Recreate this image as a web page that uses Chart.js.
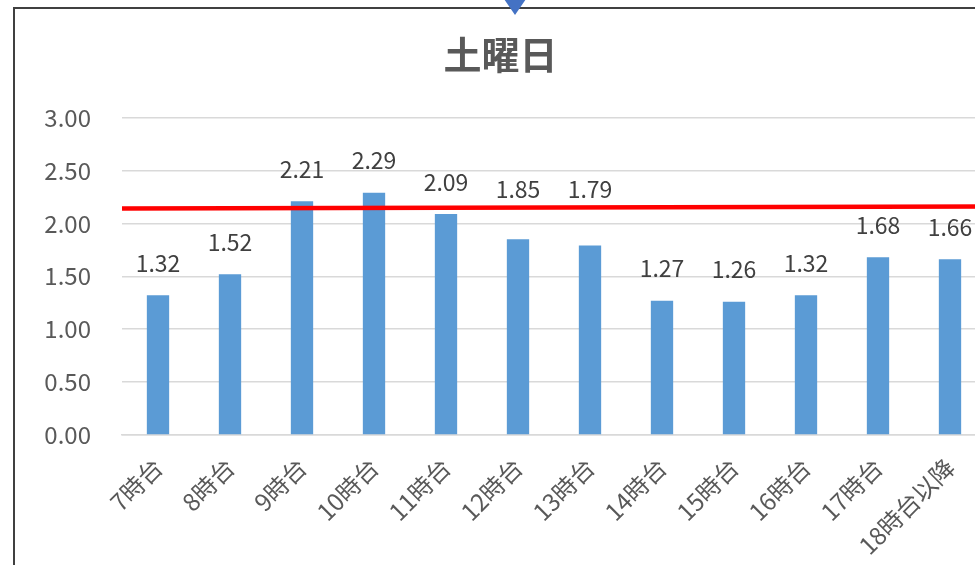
<!DOCTYPE html>
<html>
<head>
<meta charset="utf-8">
<script src="https://cdn.jsdelivr.net/npm/chart.js@4.4.1/dist/chart.umd.min.js"></script>
<style>
  html, body { margin: 0; padding: 0; background: #fff; overflow: hidden; }
  #box { position: absolute; left: 13px; top: 7px; width: 990px; height: 560px;
    border-left: 2px solid #404040; border-top: 2px solid #404040; }
  #wrap { position: absolute; left: 0; top: 0; width: 990px; height: 556px; }
  #marker { position: absolute; left: 504px; top: -1px; width: 0; height: 0;
    border-left: 11px solid transparent; border-right: 11px solid transparent;
    border-top: 16px solid #4472C4; }
</style>
</head>
<body>
<div id="box"><div id="wrap"><canvas id="grafico"></canvas></div></div>
<div id="marker"></div>
<script>
// datos
const horas = ['7時台', '8時台', '9時台', '10時台', '11時台', '12時台', '13時台', '14時台', '15時台', '16時台', '17時台', '18時台以降']
const valores = [1.32, 1.52, 2.21, 2.29, 2.09, 1.85, 1.79, 1.27, 1.26, 1.32, 1.68, 1.66]
const lineaRoja = [2.14, 2.16] // valor en el borde izquierdo y derecho del area
const fuente = "'Noto Sans CJK JP', 'Noto Sans', sans-serif"

// linea roja + etiquetas de valor sobre las barras
const extras = {
  id: 'extras',
  afterDatasetsDraw (chart) {
    const ctx = chart.ctx
    const area = chart.chartArea
    const y = chart.scales.y
    const y0 = y.getPixelForValue(lineaRoja[0])
    const y1 = y.getPixelForValue(lineaRoja[1])
    ctx.save()
    ctx.strokeStyle = '#FF0000'
    ctx.lineWidth = 4.5
    ctx.beginPath()
    ctx.moveTo(area.left, y0)
    ctx.lineTo(area.right, y1)
    ctx.stroke()
    const meta = chart.getDatasetMeta(0)
    ctx.font = '23px ' + fuente
    ctx.fillStyle = '#404040'
    ctx.textAlign = 'center'
    ctx.textBaseline = 'middle'
    meta.data.forEach((bar, i) => {
      let ty = bar.y - 32
      // si la etiqueta choca con la linea roja se sube por encima
      const yl = y0 + (y1 - y0) * (bar.x - area.left) / (area.right - area.left)
      if (Math.abs(ty - yl) < 16) ty = yl - 18
      ctx.fillText(valores[i].toFixed(2), bar.x, ty)
    })
    ctx.restore()
  }
}

const ctx = document.getElementById('grafico').getContext('2d')
const grafico = new Chart(ctx, {
  type: 'bar',
  data: {
    labels: horas,
    datasets: [{
      data: valores,
      backgroundColor: '#5B9BD5',
      barPercentage: 0.31,
      categoryPercentage: 1
    }]
  },
  options: {
    responsive: true,
    maintainAspectRatio: false,
    animation: false,
    layout: { padding: { left: 0, right: 19, top: 0, bottom: 0 } },
    plugins: {
      legend: { display: false },
      tooltip: { enabled: false },
      title: {
        display: true,
        text: '土曜日',
        color: '#595959',
        font: { family: fuente, size: 38, weight: 'bold', lineHeight: 1.2 },
        padding: { top: 23, bottom: 40 }
      }
    },
    scales: {
      x: {
        grid: { display: false },
        border: { color: '#D9D9D9', width: 1.5 },
        ticks: {
          color: '#595959',
          font: { family: fuente, size: 24 },
          minRotation: 45,
          maxRotation: 45,
          autoSkip: false,
          padding: 10
        },
        afterFit (scale) { scale.height = 130 }
      },
      y: {
        min: 0,
        max: 3,
        ticks: {
          stepSize: 0.5,
          color: '#595959',
          font: { family: fuente, size: 24 },
          padding: 31,
          callback: v => v.toFixed(2)
        },
        grid: { color: '#D9D9D9', lineWidth: 1.5, drawTicks: false },
        border: { display: false },
        afterFit (scale) { scale.width = 107 }
      }
    }
  },
  plugins: [extras]
})
</script>
</body>
</html>
